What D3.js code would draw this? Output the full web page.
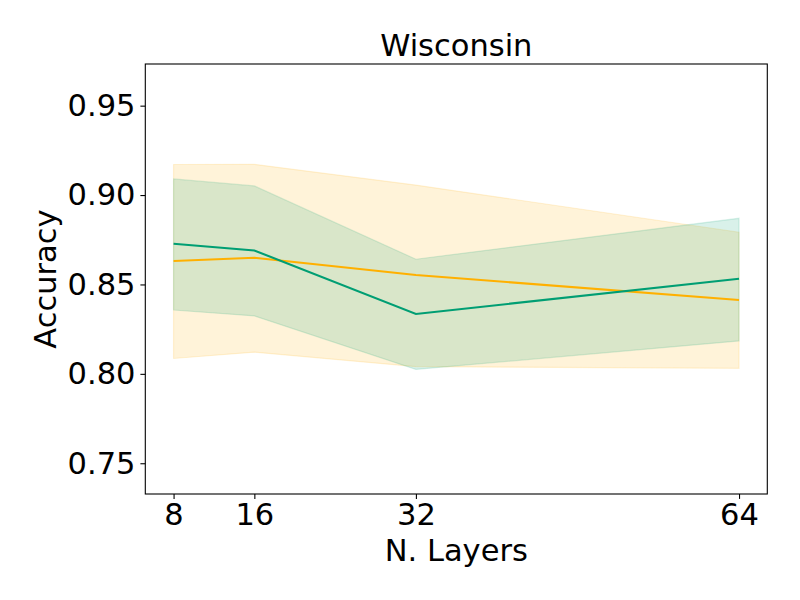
<!DOCTYPE html>
<html>
<head>
<meta charset="utf-8">
<script src="https://cdn.jsdelivr.net/npm/d3@7"></script>
<style>
  html, body { margin: 0; padding: 0; background: #fff; }
  svg { display: block; }
  text { font-family: "DejaVu Sans", sans-serif; fill: #000; }
</style>
</head>
<body>
<svg id="chart" width="800" height="600"></svg>
<script>
// ---- data ----
const layers = [8, 16, 32, 64];
const xTicks = [8, 16, 32, 64];
const yTicks = [0.75, 0.80, 0.85, 0.90, 0.95];

const orangeMean  = [0.8631, 0.8649, 0.8553, 0.8413];
const orangeUpper = [0.9171, 0.9172, 0.9056, 0.8792];
const orangeLower = [0.8086, 0.8121, 0.8040, 0.8031];

const greenMean  = [0.8728, 0.8690, 0.8335, 0.8532];
const greenUpper = [0.9090, 0.9051, 0.8641, 0.8870];
const greenLower = [0.8357, 0.8324, 0.8025, 0.8184];

const title = "Wisconsin";
const xLabel = "N. Layers";
const yLabel = "Accuracy";

// ---- layout ----
const W = 800, H = 600;
const L = 145.3, R = 767.3, T = 64, B = 494;
const FS = "30.5px";

const svg = d3.select("#chart");

const x = d3.scaleLinear().domain([5.2, 66.8]).range([L, R]);
const y = d3.scaleLinear().domain([0.7328, 0.9733]).range([B, T]);

const series = [
  { color: "#FFB000", mean: orangeMean, lo: orangeLower, hi: orangeUpper },
  { color: "#009E73", mean: greenMean, lo: greenLower, hi: greenUpper }
];

const area = d3.area()
  .x(d => x(d.x)).y0(d => y(d.lo)).y1(d => y(d.hi));
const line = d3.line()
  .x(d => x(d.x)).y(d => y(d.v));

const plot = svg.append("g");

// bands
series.forEach(s => {
  const pts = layers.map((l, i) => ({ x: l, lo: s.lo[i], hi: s.hi[i] }));
  plot.append("path")
    .attr("d", area(pts))
    .attr("fill", s.color)
    .attr("fill-opacity", 0.15)
    .attr("stroke", s.color)
    .attr("stroke-opacity", 0.15)
    .attr("stroke-width", 1.2);
});

// lines
series.forEach(s => {
  const pts = layers.map((l, i) => ({ x: l, v: s.mean[i] }));
  plot.append("path")
    .attr("d", line(pts))
    .attr("fill", "none")
    .attr("stroke", s.color)
    .attr("stroke-width", 2.1);
});

// frame
svg.append("rect")
  .attr("x", L).attr("y", T)
  .attr("width", R - L).attr("height", B - T)
  .attr("fill", "none").attr("stroke", "#000").attr("stroke-width", 1.1);

// x axis
const xAxis = d3.axisBottom(x).tickValues(xTicks).tickFormat(d3.format("d"))
  .tickSize(4.9).tickPadding(4.9);
const gx = svg.append("g").attr("transform", `translate(0,${B})`).call(xAxis);
gx.select(".domain").remove();
gx.selectAll(".tick line").attr("stroke", "#000").attr("stroke-width", 1.1);
gx.selectAll(".tick text").attr("font-size", FS).attr("font-family", "DejaVu Sans").attr("fill", "#000");

// y axis
const yAxis = d3.axisLeft(y).tickValues(yTicks).tickFormat(d3.format(".2f"))
  .tickSize(4.9).tickPadding(4.9);
const gy = svg.append("g").attr("transform", `translate(${L},0)`).call(yAxis);
gy.select(".domain").remove();
gy.selectAll(".tick line").attr("stroke", "#000").attr("stroke-width", 1.1);
gy.selectAll(".tick text").attr("font-size", FS).attr("font-family", "DejaVu Sans").attr("fill", "#000");

// title
svg.append("text")
  .attr("x", (L + R) / 2).attr("y", 56)
  .attr("text-anchor", "middle")
  .attr("font-size", FS)
  .text(title);

// x label
svg.append("text")
  .attr("x", (L + R) / 2).attr("y", 561)
  .attr("text-anchor", "middle")
  .attr("font-size", FS)
  .text(xLabel);

// y label
svg.append("text")
  .attr("transform", `translate(56,${(T + B) / 2}) rotate(-90)`)
  .attr("text-anchor", "middle")
  .attr("font-size", FS)
  .text(yLabel);
</script>
</body>
</html>
